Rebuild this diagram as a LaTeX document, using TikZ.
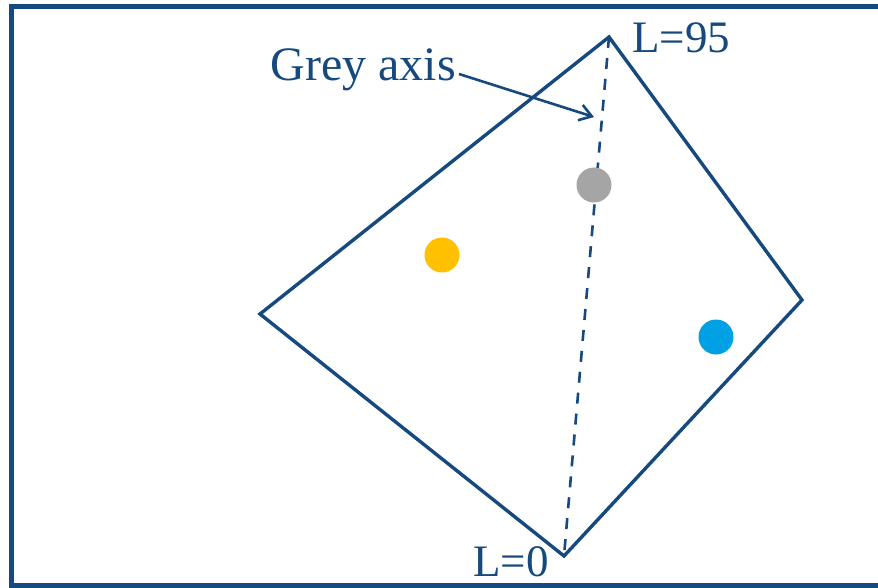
\documentclass[tikz,border=0pt]{standalone}
\usepackage{fontspec}
\setmainfont{Liberation Serif}
\usetikzlibrary{arrows.meta}
\definecolor{dblue}{RGB}{22,74,126}
\definecolor{dotgrey}{RGB}{165,165,165}
\definecolor{dotyellow}{RGB}{255,192,0}
\definecolor{dotblue}{RGB}{0,160,228}
\tikzset{
  edge/.style={draw=dblue,line width=3.4pt,line join=miter},
  axisline/.style={draw=dblue,line width=2.6pt,dash pattern=on 11pt off 10pt},
  dot/.style={circle,minimum size=35pt,inner sep=0pt,draw=none},
  lbl/.style={text=dblue,font=\fontsize{45}{50}\selectfont,inner sep=0pt}
}
\begin{document}
\begin{tikzpicture}[x=1pt,y=-1pt]
\useasboundingbox (0,0) rectangle (878,588);
\fill[white] (0,0) rectangle (878,588);
\draw[dblue,line width=5pt] (11,7) rectangle (890,585);
\coordinate (T) at (609,37);
\coordinate (R) at (802,300);
\coordinate (B) at (564,556);
\coordinate (Lf) at (260,314);
\draw[edge] (T) -- (R) -- (B) -- (Lf) -- cycle;
\draw[axisline] (T) -- (B);
\node[dot,fill=dotgrey] (g) at (594,185) {};
\node[dot,fill=dotyellow] (y) at (442,255) {};
\node[dot,fill=dotblue] (b) at (716,337) {};
\node[lbl,anchor=west] (l95) at (632,38) {L=95};
\node[lbl,anchor=east] (l0) at (549,562) {L=0};
\node[lbl,anchor=east,font=\fontsize{48}{54}\selectfont] (ga) at (456,70) {Grey axis};
\coordinate (ah) at (594,117);
\draw[dblue,line width=2.6pt,-{Straight Barb[length=12pt,width=16pt]}] ([shift={(3,4)}]ga.east) -- (ah);
\end{tikzpicture}
\end{document}
